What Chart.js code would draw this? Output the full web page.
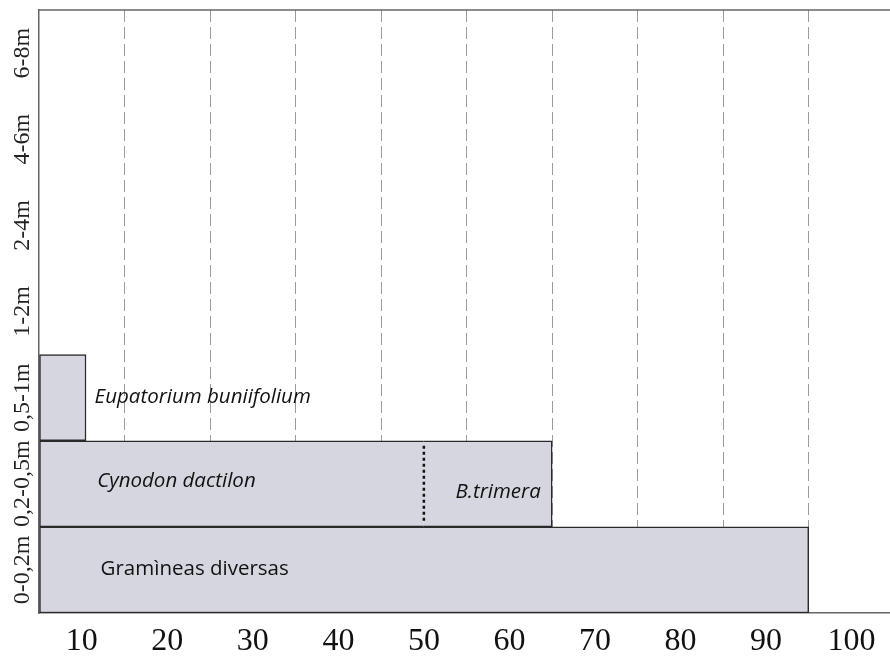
<!DOCTYPE html>
<html>
<head>
<meta charset="utf-8">
<script src="https://cdn.jsdelivr.net/npm/chart.js@4.4.1/dist/chart.umd.min.js"></script>
<style>
  html, body { margin: 0; padding: 0; background: #fff; }
  #wrap { width: 890px; height: 658px; }
</style>
</head>
<body>
<div id="wrap"><canvas id="chart"></canvas></div>
<script>
// height classes, top to bottom
const heights = ['6-8m', '4-6m', '2-4m', '1-2m', '0,5-1m', '0,2-0,5m', '0-0,2m'];
// dashed grid positions and the labels written in each 10-unit band
const xGrid = [0, 10, 20, 30, 40, 50, 60, 70, 80, 90];
const xTickLabels = ['10', '20', '30', '40', '50', '60', '70', '80', '90', '100'];

// cover (%) per height class
const gramineas  = [null, null, null, null, null, null, 90];
const cynodon    = [null, null, null, null, null, 45, null];
const btrimera   = [null, null, null, null, null, 15, null];
const eupatorium = [null, null, null, null, 5.5, null, null];

// species names written on the chart
const names = [
  { text: 'Eupatorium buniifolium', x: 6.5, row: '0,5-1m', italic: true, dy: 0 },
  { text: 'Cynodon dactilon', x: 6.8, row: '0,2-0,5m', italic: true, dy: -3 },
  { text: 'B.trimera', x: 48.7, row: '0,2-0,5m', italic: true, dy: 8 },
  { text: 'Gramìneas diversas', x: 7.2, row: '0-0,2m', italic: false, dy: -1 }
];

const fill = '#d5d6df';
const edge = '#2a2a2a';
const full = { top: 1.5, bottom: 1.5, left: 1.5, right: 1.5 };

const decorations = {
  id: 'decorations',
  afterDatasetsDraw(chart) {
    const ctx = chart.ctx;
    // dotted divider between Cynodon and B.trimera
    const bar = chart.getDatasetMeta(1).data[heights.indexOf('0,2-0,5m')];
    ctx.save();
    ctx.setLineDash([3, 3]);
    ctx.lineWidth = 2.5;
    ctx.strokeStyle = '#111';
    ctx.beginPath();
    ctx.moveTo(bar.x, bar.y - bar.height / 2 + 5);
    ctx.lineTo(bar.x, bar.y + bar.height / 2 - 5);
    ctx.stroke();
    ctx.restore();
  },
  afterDraw(chart) {
    const { ctx, chartArea, scales: { x, y } } = chart;
    ctx.save();
    // top frame line
    ctx.strokeStyle = '#666';
    ctx.lineWidth = 1.5;
    ctx.beginPath();
    ctx.moveTo(chartArea.left, chartArea.top);
    ctx.lineTo(chartArea.right, chartArea.top);
    ctx.stroke();

    // rotated height labels
    ctx.fillStyle = '#222';
    ctx.font = '24px "Liberation Serif", serif';
    ctx.textAlign = 'center';
    ctx.textBaseline = 'middle';
    heights.forEach((h, i) => {
      ctx.save();
      ctx.translate(chartArea.left - 16, y.getPixelForTick(i));
      ctx.rotate(-Math.PI / 2);
      ctx.fillText(h, 0, 0);
      ctx.restore();
    });

    // species names
    ctx.fillStyle = '#111';
    ctx.textAlign = 'left';
    names.forEach(n => {
      ctx.font = (n.italic ? 'italic ' : '') + '20.5px "Open Sans", sans-serif';
      ctx.fillText(n.text, x.getPixelForValue(n.x), y.getPixelForTick(heights.indexOf(n.row)) + n.dy);
    });
    ctx.restore();
  }
};

new Chart(document.getElementById('chart'), {
  type: 'bar',
  data: {
    labels: heights,
    datasets: [
      { label: 'Gramìneas diversas', data: gramineas, borderWidth: full },
      { label: 'Cynodon dactilon', data: cynodon, borderWidth: { top: 1.5, bottom: 1.5, left: 1.5, right: 0 } },
      { label: 'B.trimera', data: btrimera, borderWidth: { top: 1.5, bottom: 1.5, left: 0, right: 1.5 } },
      { label: 'Eupatorium buniifolium', data: eupatorium, borderWidth: full }
    ].map(d => Object.assign(d, {
      backgroundColor: fill,
      borderColor: edge,
      borderSkipped: false,
      barPercentage: 1,
      categoryPercentage: 1
    }))
  },
  options: {
    indexAxis: 'y',
    responsive: true,
    maintainAspectRatio: false,
    animation: false,
    layout: { padding: { top: 10, left: 0, right: 0, bottom: 0 } },
    plugins: { legend: { display: false }, tooltip: { enabled: false } },
    scales: {
      x: {
        type: 'linear',
        stacked: true,
        min: 0,
        max: 99.5,
        z: 1,
        afterBuildTicks: s => { s.ticks = xGrid.map(v => ({ value: v })); },
        afterFit: s => { s.height = 45; },
        grid: {
          drawTicks: false,
          color: c => (c.tick && c.tick.value === 0 ? 'rgba(0,0,0,0)' : '#9a9a9a'),
          lineWidth: 1
        },
        border: { display: true, color: '#666', width: 1.5, dash: [12, 5] },
        ticks: {
          padding: 9,
          labelOffset: 42.8,
          maxRotation: 0,
          color: '#111',
          font: { family: '"Liberation Serif", serif', size: 32 },
          callback: (v, i) => xTickLabels[i]
        }
      },
      y: {
        stacked: true,
        afterFit: s => { s.width = 39; },
        grid: { display: false },
        border: { display: true, color: '#666', width: 1.5 },
        ticks: { display: false }
      }
    }
  },
  plugins: [decorations]
});
</script>
</body>
</html>
